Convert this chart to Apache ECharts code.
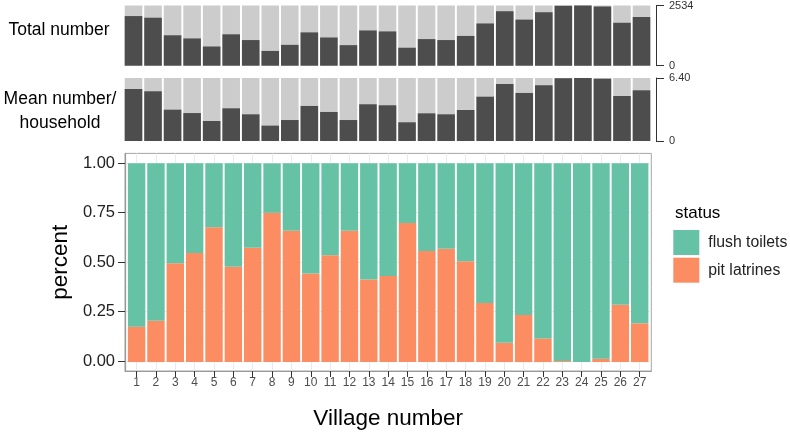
<!DOCTYPE html>
<html>
<head>
<meta charset="utf-8">
<script src="https://cdn.jsdelivr.net/npm/echarts@6/dist/echarts.min.js"></script>
<style>html,body{margin:0;padding:0;background:#fff;}#c{width:790px;height:435px;}</style>
</head>
<body>
<div id="c"></div>
<script>
const villages = [1,2,3,4,5,6,7,8,9,10,11,12,13,14,15,16,17,18,19,20,21,22,23,24,25,26,27];
const totalNumber = [2089,2020,1280,1147,808,1321,1079,622,877,1402,1188,865,1483,1443,756,1120,1079,1253,1778,2292,1940,2251,2521,2534,2494,1807,2049];
const meanPerHousehold = [5.28,5.05,3.18,2.84,2.03,3.32,2.71,1.56,2.13,3.56,2.95,2.13,3.73,3.63,1.90,2.81,2.71,3.15,4.50,5.79,4.88,5.66,6.37,6.40,6.33,4.57,5.15];
const pitShare = [0.178,0.208,0.497,0.549,0.679,0.480,0.575,0.751,0.661,0.446,0.537,0.661,0.416,0.433,0.700,0.559,0.570,0.507,0.297,0.097,0.237,0.119,0.005,0,0.017,0.288,0.195];
const flushShare = [0.822,0.792,0.503,0.451,0.321,0.520,0.425,0.249,0.339,0.554,0.463,0.339,0.584,0.567,0.300,0.441,0.430,0.493,0.703,0.903,0.763,0.881,0.995,1,0.983,0.712,0.805];
const totalTicks = [0, 2534];
const meanTicks = [0, 6.40];
const shareTicks = [0, 0.25, 0.5, 0.75, 1];
const shareMinor = [0.125, 0.375, 0.625, 0.875];
const statusNames = ['flush toilets', 'pit latrines'];

const FONT = "'Liberation Sans', Arial, sans-serif";
const pair = arr => villages.map((v, i) => [v, arr[i]]);

// main panel geometry (ggplot expansion: discrete 0.6 units, continuous 5%; bar width 0.9)
const P = {left: 125, right: 138.7, top: 153.4, height: 218.6};
const unit = (790 - P.left - P.right) / 27.2;
const yMin = -0.05, yMax = 1.05;

const chart = echarts.init(document.getElementById('c'), null, {renderer: 'canvas'});
const hiddenX = (gi) => ({type: 'value', gridIndex: gi, min: 0.55, max: 27.45, show: false});
const rightY = (gi, ticks, fmt) => ({
  type: 'value', gridIndex: gi, position: 'right', offset: 5.7,
  min: ticks[0], max: ticks[1], interval: ticks[1] - ticks[0],
  axisLine: {show: true, lineStyle: {color: '#333', width: 1}},
  axisTick: {show: true, length: 8, lineStyle: {color: '#333', width: 1}},
  axisLabel: {show: true, margin: 13, fontSize: 11, color: '#333', fontFamily: FONT, formatter: fmt},
  splitLine: {show: false}
});

chart.setOption({
  animation: false,
  backgroundColor: '#fff',
  textStyle: {fontFamily: FONT},
  grid: [
    {left: 124.7, right: 139.7, top: 2.7, height: 63},
    {left: 124.7, right: 139.7, top: 78, height: 63},
    {left: P.left, right: P.right, top: P.top, height: P.height, show: true, borderColor: '#a6a6a6', borderWidth: 1, backgroundColor: '#fff'},
    {left: P.left + 0.1 * unit, right: P.right + 0.1 * unit, top: P.top, height: P.height},
    {left: P.left, right: P.right, top: P.top, height: P.height}
  ],
  xAxis: [
    hiddenX(0),
    hiddenX(1),
    {
      type: 'value', gridIndex: 2, min: 0.4, max: 27.6,
      name: 'Village number', nameLocation: 'middle', nameGap: 36,
      nameTextStyle: {fontSize: 22.5, color: '#000', fontFamily: FONT},
      axisLine: {show: true, onZero: false, lineStyle: {color: '#999', width: 1.2}},
      axisTick: {show: true, length: 6, customValues: villages, lineStyle: {color: '#333'}},
      axisLabel: {show: true, margin: 6, fontSize: 12, color: '#4d4d4d', fontFamily: FONT, customValues: villages},
      splitLine: {show: true, lineStyle: {color: '#ebebeb', width: 1}}
    },
    {type: 'category', gridIndex: 3, data: villages, boundaryGap: true, show: false},
    {type: 'value', gridIndex: 4, min: 0.4, max: 27.6, show: false}
  ],
  yAxis: [
    rightY(0, totalTicks, v => String(Math.round(v))),
    rightY(1, meanTicks, v => v === 0 ? '0' : v.toFixed(2)),
    {
      type: 'value', gridIndex: 2, min: yMin, max: yMax,
      name: 'percent', nameLocation: 'middle', nameGap: 52,
      nameTextStyle: {fontSize: 22.5, color: '#000', fontFamily: FONT},
      axisLine: {show: true, onZero: false, lineStyle: {color: '#999', width: 1.2}},
      axisTick: {show: true, length: 7, customValues: shareTicks, lineStyle: {color: '#333'}},
      axisLabel: {margin: 10, fontSize: 16.5, color: '#222', fontFamily: FONT, customValues: shareTicks, formatter: v => v.toFixed(2)},
      splitLine: {show: true, lineStyle: {color: '#ebebeb', width: 1}}
    },
    {type: 'value', gridIndex: 3, min: yMin, max: yMax, show: false},
    {
      type: 'value', gridIndex: 4, min: yMin, max: yMax,
      axisLine: {show: false}, axisLabel: {show: false},
      axisTick: {show: false, customValues: shareMinor},
      splitLine: {show: true, lineStyle: {color: '#f4f4f4', width: 0.6}}
    }
  ],
  legend: {
    orient: 'vertical', left: 673.3, top: 230, padding: 0,
    itemWidth: 26, itemHeight: 25, itemGap: 2.7, icon: 'rect',
    data: statusNames,
    textStyle: {fontSize: 15.8, color: '#222', fontFamily: FONT, padding: [0, 0, 0, 4]}
  },
  graphic: [
    {type: 'text', x: 59, y: 30, style: {text: 'Total number', font: '17.5px ' + FONT, fill: '#000', textAlign: 'center', textVerticalAlign: 'middle'}},
    {type: 'text', x: 60, y: 111, style: {text: 'Mean number/\nhousehold', font: '17.5px ' + FONT, fill: '#000', textAlign: 'center', textVerticalAlign: 'middle', lineHeight: 24}},
    {type: 'text', x: 675, y: 213, style: {text: 'status', font: '17px ' + FONT, fill: '#000', textAlign: 'left', textVerticalAlign: 'middle'}}
  ],
  series: [
    {
      type: 'bar', xAxisIndex: 0, yAxisIndex: 0, data: pair(totalNumber), barWidth: '90%',
      itemStyle: {color: '#4d4d4d'}, showBackground: true, backgroundStyle: {color: '#cccccc'}
    },
    {
      type: 'bar', xAxisIndex: 1, yAxisIndex: 1, data: pair(meanPerHousehold), barWidth: '90%',
      itemStyle: {color: '#4d4d4d'}, showBackground: true, backgroundStyle: {color: '#cccccc'}
    },
    {
      name: statusNames[1], type: 'bar', xAxisIndex: 3, yAxisIndex: 3, stack: 'share',
      data: pitShare, barWidth: '90%', itemStyle: {color: '#fc8d62'}
    },
    {
      name: statusNames[0], type: 'bar', xAxisIndex: 3, yAxisIndex: 3, stack: 'share',
      data: flushShare, barWidth: '90%', itemStyle: {color: '#66c2a5'}
    }
  ]
});
</script>
</body>
</html>
